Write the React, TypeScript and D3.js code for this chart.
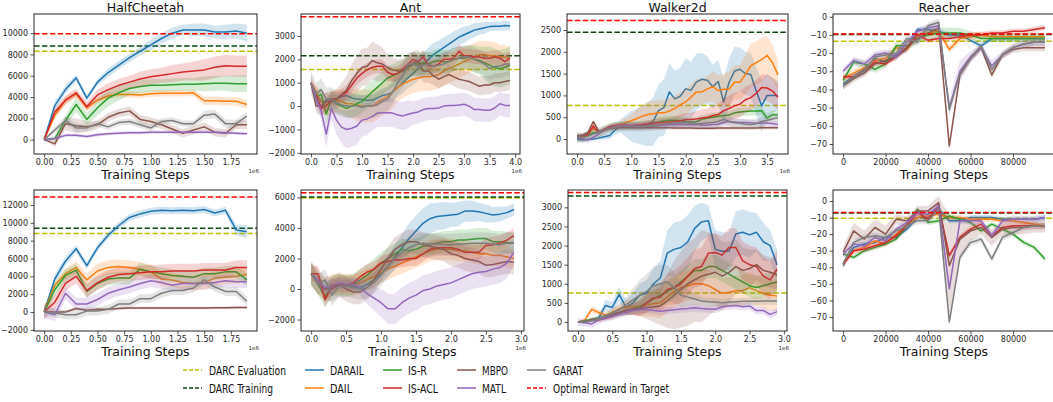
import React, { useEffect, useRef } from 'react';
import * as d3 from 'd3';

const METHODS = ['DARAIL', 'DAIL', 'IS-R', 'IS-ACL', 'MBPO', 'MATL', 'GARAT'];
const COLORS: Record<string, string> = {
  DARAIL: '#1f77b4', DAIL: '#ff7f0e', 'IS-R': '#2ca02c', 'IS-ACL': '#d62728',
  MBPO: '#8c564b', MATL: '#9467bd', GARAT: '#7f7f7f',
};
const EVAL_COLOR = '#bfbf00';
const TRAIN_COLOR = '#0b4a0b';
const OPT_COLOR = '#ff0000';

// x steps (1e6 for mujoco, raw for reacher)
const steps20 = d3.range(20).map((i) => i / 10);
const steps40 = d3.range(40).map((i) => i / 10);
const steps38 = d3.range(38).map((i) => i / 10);
const steps30 = d3.range(30).map((i) => i / 10);
const stepsReacher = d3.range(20).map((i) => i * 5000);

// reference lines per panel: HC, Ant, Walker, Reacher (top), then bottom row
const evalRefs = [8300, 1570, 770, -13.5, 8800, 5950, 760, -10.5];
const trainRefs = [8800, 2150, 2450, -9.8, 9400, 6020, 3300, -7.3];
const optimalRefs = [9950, 3820, 2720, -9.5, 12900, 6300, 3390, -7.0];

const hcTop: Record<string, number[]> = {
  DARAIL: [0, 3200, 4700, 5800, 3900, 5400, 6300, 7000, 7700, 8300, 8900, 9500, 10000, 10300, 10300, 10300, 10100, 10100, 10200, 10000],
  DAIL: [0, 2300, 3700, 4300, 3000, 3700, 4100, 4250, 4250, 4200, 4300, 4350, 4350, 4350, 4400, 3650, 3650, 3600, 3600, 3300],
  'IS-R': [0, 100, 1800, 3300, 1900, 3000, 3900, 4400, 4800, 5000, 5100, 5100, 5150, 5200, 5200, 5250, 5300, 5300, 5250, 5250],
  'IS-ACL': [0, 2600, 3700, 4400, 3100, 4200, 4700, 5100, 5400, 5700, 5900, 6050, 6200, 6350, 6450, 6550, 6800, 6950, 6900, 6900],
  MBPO: [0, -400, 1500, 1300, 1200, 1400, 2100, 2500, 2700, 1900, 1700, 1400, 1000, 600, 900, 1200, 700, 600, 1400, 1400],
  MATL: [0, 100, 400, 400, 300, 450, 550, 600, 650, 650, 700, 700, 700, 700, 700, 700, 700, 650, 600, 550],
  GARAT: [0, 900, 1800, 1100, 1100, 1500, 1200, 1600, 1700, 1400, 1100, 1700, 1800, 1500, 1500, 2300, 2400, 1500, 1500, 2200],
};
const hcTopSpread: Record<string, number | number[]> = {
  DARAIL: [0, 400, 400, 300, 300, 300, 400, 400, 400, 400, 500, 500, 500, 500, 600, 600, 600, 700, 700, 800],
  DAIL: [0, 400, 400, 300, 300, 300, 300, 300, 300, 300, 300, 300, 300, 300, 300, 400, 400, 400, 400, 400],
  'IS-R': [0, 300, 500, 700, 600, 700, 800, 700, 600, 600, 600, 600, 600, 600, 600, 700, 700, 700, 800, 800],
  'IS-ACL': [0, 400, 400, 400, 400, 500, 600, 600, 600, 700, 700, 700, 800, 800, 900, 1000, 1000, 1000, 1000, 1000],
  MBPO: [0, 300, 600, 700, 500, 400, 400, 400, 400, 400, 400, 400, 400, 400, 400, 400, 400, 400, 400, 400],
  MATL: 150,
  GARAT: [0, 300, 400, 400, 300, 300, 300, 300, 300, 300, 300, 300, 300, 300, 300, 400, 400, 400, 400, 400],
};

const antTop: Record<string, number[]> = {
  DARAIL: [1000, 400, -50, 250, 300, 300, 400, 450, 350, 300, 280, 250, 250, 350, 450, 500, 600, 800, 1000, 1200, 1400, 1600, 1800, 2000, 2200, 2350, 2500, 2650, 2800, 2950, 3050, 3150, 3250, 3300, 3350, 3400, 3420, 3420, 3450, 3430],
  DAIL: [1000, 600, 200, 50, 150, 250, 200, 100, 100, 50, 0, 0, 0, 150, 300, 400, 600, 800, 950, 1050, 1150, 1200, 1250, 1250, 1300, 1350, 1500, 1600, 1700, 1800, 1900, 2000, 2100, 2200, 2200, 2150, 2150, 2100, 2100, 2050],
  'IS-R': [1000, 400, 500, -350, 300, 100, 0, -100, 0, 100, 200, 400, 600, 800, 1000, 1200, 1300, 1400, 1500, 1650, 1800, 1800, 1850, 1800, 1900, 1950, 1900, 1900, 2000, 2050, 2050, 2100, 2000, 1950, 1850, 1750, 1650, 1600, 1650, 1750],
  'IS-ACL': [1000, 500, -100, 0, 300, 300, 450, 600, 900, 1200, 1400, 1550, 1650, 1700, 1700, 1450, 1350, 1400, 1600, 1800, 2000, 1900, 2100, 1750, 1700, 1800, 2000, 2000, 2050, 2350, 2150, 2150, 2100, 2100, 2050, 2050, 2100, 2050, 1900, 2050],
  MBPO: [1000, 0, 0, 200, 200, 300, 500, 700, 1100, 1400, 1650, 1700, 1950, 1850, 1800, 1650, 1550, 1500, 1500, 1700, 1850, 1900, 1500, 1500, 1300, 1150, 1250, 1350, 1250, 1150, 1100, 1050, 950, 850, 900, 900, 1000, 1000, 1050, 1100],
  MATL: [1000, 300, -200, -1200, -100, -600, -900, -1000, -950, -850, -600, -550, -450, -300, -280, -280, -300, -380, -420, -350, -300, -250, -150, -100, -100, -80, 0, 30, 30, 50, 80, 0, -150, -150, -180, -180, -80, 100, 30, 20],
  GARAT: [1000, 500, 700, 300, 300, 150, 50, 0, 0, 0, -50, 0, 0, 50, 200, 300, 600, 1000, 1300, 1800, 1800, 1700, 1750, 1800, 1700, 1750, 1800, 1900, 2000, 2050, 2100, 2100, 2000, 1900, 1800, 1600, 1700, 1700, 1800, 1800],
};
const antTopSpread: Record<string, number | number[]> = {
  DARAIL: [0, 150, 200, 200, 200, 200, 200, 200, 200, 200, 200, 200, 250, 300, 300, 350, 400, 400, 450, 450, 500, 500, 500, 500, 500, 450, 450, 400, 400, 350, 350, 300, 300, 250, 250, 200, 200, 200, 200, 200],
  DAIL: [0, 300, 400, 500, 500, 500, 500, 500, 600, 700, 700, 700, 700, 700, 700, 700, 700, 600, 600, 600, 600, 600, 600, 600, 600, 600, 600, 600, 600, 600, 600, 600, 600, 600, 600, 600, 600, 500, 500, 500],
  'IS-R': [0, 300, 300, 400, 400, 400, 400, 400, 500, 500, 500, 500, 500, 500, 500, 500, 500, 500, 500, 500, 500, 500, 500, 500, 500, 500, 500, 500, 500, 500, 500, 500, 600, 600, 700, 800, 800, 800, 800, 800],
  'IS-ACL': 300,
  MBPO: [0, 300, 400, 400, 400, 400, 500, 600, 700, 800, 800, 800, 800, 800, 700, 600, 500, 500, 500, 500, 500, 500, 500, 500, 400, 400, 400, 400, 400, 400, 400, 400, 400, 400, 400, 400, 400, 400, 400, 400],
  MATL: [0, 300, 400, 600, 500, 600, 700, 800, 800, 800, 700, 700, 600, 600, 600, 600, 600, 600, 600, 600, 500, 500, 500, 500, 500, 500, 500, 500, 500, 500, 500, 500, 500, 500, 500, 500, 500, 500, 500, 500],
  GARAT: 500,
};

const walkerTop: Record<string, number[]> = {
  DARAIL: [0, -20, -10, 0, 20, 50, 80, 200, 300, 300, 290, 300, 320, 340, 400, 650, 720, 1080, 920, 980, 1150, 1120, 1310, 1370, 1350, 1200, 1320, 850, 1300, 1560, 1600, 1500, 1480, 1100, 760, 1000, 1000, 1000],
  DAIL: [50, 60, 100, 250, 150, 200, 270, 300, 330, 380, 420, 470, 520, 560, 580, 600, 600, 640, 700, 780, 850, 960, 1080, 1080, 1150, 1200, 1110, 1140, 1140, 1300, 1300, 1480, 1680, 1750, 1820, 1920, 1750, 1470],
  'IS-R': [20, 30, 80, 150, 130, 200, 260, 290, 300, 300, 300, 300, 310, 330, 350, 390, 420, 430, 430, 420, 400, 390, 400, 450, 480, 500, 520, 540, 550, 600, 620, 630, 640, 640, 650, 480, 560, 550],
  'IS-ACL': [60, 80, 100, 300, 150, 220, 280, 310, 320, 320, 310, 320, 330, 350, 360, 370, 380, 390, 400, 420, 440, 450, 460, 480, 500, 540, 560, 650, 700, 760, 800, 900, 950, 1050, 1180, 1170, 1100, 960],
  MBPO: [80, 80, 150, 400, 180, 200, 230, 250, 260, 260, 260, 260, 260, 260, 260, 260, 260, 260, 255, 250, 250, 250, 245, 245, 245, 245, 250, 250, 250, 250, 250, 250, 255, 255, 260, 260, 260, 260],
  MATL: [20, 0, -20, 40, 120, 200, 250, 280, 300, 310, 300, 300, 290, 300, 310, 320, 320, 320, 330, 340, 330, 340, 330, 320, 320, 330, 340, 380, 400, 390, 380, 380, 370, 360, 360, 370, 350, 330],
  GARAT: [50, 30, 60, 120, 150, 200, 240, 280, 290, 290, 290, 280, 280, 290, 300, 310, 330, 350, 360, 370, 370, 360, 350, 350, 370, 380, 400, 450, 400, 370, 360, 340, 330, 350, 400, 430, 460, 490],
};
const walkerTopSpread: Record<string, number | number[]> = {
  DARAIL: [30, 30, 30, 30, 40, 60, 80, 100, 150, 250, 350, 400, 450, 500, 550, 600, 650, 650, 650, 650, 700, 650, 650, 600, 550, 500, 500, 550, 550, 550, 500, 500, 500, 550, 600, 500, 400, 350],
  DAIL: [30, 30, 40, 80, 50, 50, 60, 60, 80, 100, 150, 200, 250, 300, 300, 300, 300, 300, 300, 300, 300, 300, 300, 300, 300, 350, 350, 350, 400, 400, 400, 450, 500, 500, 500, 450, 400, 350],
  'IS-R': 100,
  'IS-ACL': [30, 30, 40, 100, 50, 50, 50, 50, 50, 50, 50, 60, 70, 80, 90, 100, 100, 100, 120, 140, 150, 160, 180, 200, 200, 220, 250, 280, 300, 300, 300, 300, 300, 300, 300, 300, 300, 300],
  MBPO: 40,
  MATL: 80,
  GARAT: 110,
};

const reacherTop: Record<string, number[]> = {
  DARAIL: [-37, -33, -29, -23, -25, -21, -18, -7, -7, -8, -10, -10, -13, -16, -12, -12, -12, -12, -12, -12],
  DAIL: [-34, -31, -28, -24, -23, -17, -18, -10, -9, -8, -18, -12, -11, -10, -11, -11, -11, -11, -11, -11],
  'IS-R': [-35, -25, -26, -29, -26, -16, -16, -12, -10, -9, -9, -9, -10, -12, -12, -12, -12, -12, -12, -12],
  'IS-ACL': [-33, -33, -30, -25, -26, -22, -17, -10, -13, -12, -12, -11, -10, -10, -9, -9, -8, -8, -7, -6],
  MBPO: [-38, -34, -31, -26, -24, -22, -17, -12, -9, -6, -71, -32, -23, -17, -32, -21, -18, -17, -17, -17],
  MATL: [-30, -24, -26, -21, -20, -22, -14, -8, -6, -5, -50, -30, -22, -17, -27, -21, -17, -15, -14, -14],
  GARAT: [-38, -33, -30, -22, -21, -20, -12, -14, -5, -3, -51, -31, -23, -16, -29, -21, -17, -15, -14, -14],
};
const reacherTopSpread: Record<string, number | number[]> = {
  DARAIL: 1.5,
  DAIL: 2,
  'IS-R': [2, 2, 2, 2, 2, 2, 2, 3, 3, 3, 3, 3, 2, 2, 2, 2, 2, 2, 2, 2],
  'IS-ACL': 1.5,
  MBPO: 2,
  MATL: [2, 2, 2, 2, 2, 2, 2, 2, 2, 2, 4, 6, 3, 2, 3, 2, 2, 2, 2, 2],
  GARAT: 2,
};

const hcBottom: Record<string, number[]> = {
  DARAIL: [0, 3700, 5700, 7100, 5200, 7200, 8600, 9700, 10600, 11000, 11300, 11400, 11350, 11400, 11350, 11500, 11100, 11400, 9200, 9000],
  DAIL: [0, 3000, 4300, 5000, 3600, 4600, 5000, 5100, 5000, 4800, 4500, 3700, 3600, 3300, 3200, 3300, 3800, 3900, 4000, 4200],
  'IS-R': [0, 2500, 4100, 4700, 2300, 3200, 3700, 3800, 3800, 4800, 4500, 4300, 4100, 4000, 3900, 4300, 4300, 4500, 4500, 3600],
  'IS-ACL': [0, 1100, 3200, 4000, 2400, 3300, 3900, 4200, 4300, 4400, 4500, 4500, 4600, 4600, 4600, 4700, 4700, 4700, 5000, 5000],
  MBPO: [0, 0, 0, 400, 200, 300, 300, 400, 450, 450, 450, 450, 450, 450, 450, 450, 480, 480, 500, 500],
  MATL: [0, -300, 2100, 900, 900, 1400, 2100, 2500, 2800, 3200, 3500, 3300, 3000, 3200, 3200, 3200, 3300, 3500, 3400, 3400],
  GARAT: [0, -100, -300, -300, 100, 100, 300, 900, 900, 1500, 1500, 2100, 2400, 2400, 2700, 3600, 2800, 2300, 2300, 1200],
};
const hcBottomSpread: Record<string, number | number[]> = {
  DARAIL: [0, 500, 500, 400, 400, 400, 400, 400, 400, 400, 400, 400, 400, 400, 400, 400, 400, 400, 600, 700],
  DAIL: [0, 400, 600, 700, 700, 800, 800, 800, 800, 800, 800, 800, 800, 800, 800, 800, 800, 800, 800, 800],
  'IS-R': 700,
  'IS-ACL': 800,
  MBPO: 150,
  MATL: 700,
  GARAT: 500,
};

const antBottom: Record<string, number[]> = {
  DARAIL: [1000, 500, 0, 300, 250, 300, 200, 100, 300, 600, 1000, 1500, 2100, 2700, 3300, 3800, 4300, 4600, 4750, 4800, 4850, 4900, 5100, 5100, 5050, 4950, 4850, 4900, 5000, 5200],
  DAIL: [1000, 300, 0, 300, 300, 300, 250, 400, 600, 800, 1100, 1300, 1500, 1700, 1900, 2100, 2300, 2500, 2600, 2600, 2600, 2500, 2500, 2400, 2300, 2300, 2200, 2200, 2100, 2000],
  'IS-R': [1000, 300, -500, 200, 250, 200, 300, 600, 900, 1300, 1700, 2000, 2300, 2600, 2500, 2600, 2800, 2900, 3000, 3100, 3100, 3200, 3200, 3250, 3300, 3300, 3100, 3100, 3050, 3000],
  'IS-ACL': [1000, 1000, -700, 200, 300, 250, 400, 800, 1100, 1300, 1700, 1800, 1900, 1900, 2000, 2000, 2300, 2600, 2700, 2700, 2700, 2600, 2400, 2400, 2400, 2850, 2900, 3000, 3200, 3500],
  MBPO: [1000, 500, 0, 0, 300, 0, -200, -200, 100, 600, 1300, 2000, 2600, 2900, 3100, 3100, 2900, 2800, 2700, 2600, 2300, 2200, 2000, 1900, 1800, 1550, 1600, 1700, 1800, 1750],
  MATL: [1000, 500, 100, 200, 400, 300, 300, 100, -300, -600, -900, -1300, -1300, -900, -600, -400, -100, 0, 200, 300, 400, 600, 800, 1000, 1100, 1150, 1300, 1400, 1700, 2400],
  GARAT: [1000, 300, 600, -400, 200, 200, 100, 0, 100, 400, 900, 1500, 2000, 2400, 2700, 2900, 3000, 2950, 2950, 2900, 2900, 2950, 2950, 3000, 3000, 3000, 2950, 2900, 3000, 3000],
};
const antBottomSpread: Record<string, number | number[]> = {
  DARAIL: [0, 300, 400, 400, 300, 300, 300, 300, 400, 500, 600, 700, 800, 900, 1000, 1000, 1000, 1000, 900, 900, 800, 800, 700, 700, 600, 600, 500, 500, 400, 400],
  DAIL: 700,
  'IS-R': 700,
  'IS-ACL': 500,
  MBPO: 800,
  MATL: [0, 300, 400, 400, 300, 300, 400, 500, 700, 800, 900, 1000, 1000, 1000, 1000, 1000, 1000, 1000, 1000, 1000, 1000, 1000, 1000, 1000, 1000, 1000, 1000, 1000, 1000, 800],
  GARAT: 700,
};

const walkerBottom: Record<string, number[]> = {
  DARAIL: [0, 0, 50, 100, 430, 380, 720, 380, 500, 700, 750, 1000, 1150, 1800, 1900, 1950, 2100, 2450, 2620, 2650, 1900, 1850, 1850, 2300, 2350, 2280, 2350, 2100, 2000, 1500],
  DAIL: [0, 50, 330, 250, 180, 250, 350, 400, 400, 420, 450, 480, 500, 650, 800, 900, 950, 1000, 1000, 950, 850, 750, 780, 820, 820, 900, 820, 750, 700, 680],
  'IS-R': [0, 30, 70, 100, 150, 200, 250, 300, 350, 400, 500, 600, 700, 800, 900, 1050, 1200, 1350, 1350, 1450, 1450, 1350, 1250, 1150, 1050, 950, 900, 950, 1000, 1050],
  'IS-ACL': [0, 0, 50, 50, 100, 150, 250, 300, 330, 350, 500, 630, 650, 850, 900, 1000, 1200, 1400, 1450, 1800, 1820, 1750, 1950, 1950, 1600, 1500, 1450, 1200, 1100, 1380],
  MBPO: [0, 0, 50, 80, 120, 180, 250, 300, 330, 350, 380, 400, 420, 550, 700, 850, 1000, 1100, 1200, 1250, 1300, 1200, 1300, 1450, 1350, 1400, 1500, 1350, 1300, 1230],
  MATL: [0, -20, -50, 50, 100, 150, 200, 250, 300, 320, 330, 300, 280, 300, 320, 340, 350, 370, 350, 340, 330, 400, 420, 430, 400, 420, 300, 300, 200, 270],
  GARAT: [0, 0, 30, 80, 150, 230, 330, 450, 580, 700, 800, 950, 1000, 1050, 900, 700, 650, 600, 550, 530, 520, 500, 520, 530, 540, 540, 540, 550, 550, 550],
};
const walkerBottomSpread: Record<string, number | number[]> = {
  DARAIL: [30, 30, 50, 80, 150, 150, 200, 200, 250, 300, 350, 400, 450, 600, 700, 700, 700, 600, 500, 400, 500, 500, 500, 600, 600, 600, 500, 500, 400, 400],
  DAIL: [20, 50, 80, 80, 80, 100, 100, 150, 200, 250, 300, 350, 400, 400, 400, 400, 400, 400, 400, 400, 400, 400, 400, 400, 400, 400, 400, 400, 400, 400],
  'IS-R': [20, 30, 40, 50, 60, 80, 100, 120, 150, 200, 250, 300, 300, 300, 300, 300, 300, 300, 300, 300, 300, 300, 300, 300, 300, 300, 300, 300, 300, 300],
  'IS-ACL': [20, 30, 40, 50, 60, 80, 100, 120, 150, 200, 250, 300, 350, 400, 450, 500, 500, 500, 500, 500, 500, 500, 500, 500, 500, 500, 500, 500, 500, 500],
  MBPO: [20, 30, 40, 50, 60, 80, 100, 120, 150, 200, 300, 400, 500, 700, 900, 1000, 1100, 1100, 1200, 1100, 1000, 900, 800, 700, 600, 500, 400, 400, 400, 400],
  MATL: 100,
  GARAT: [20, 30, 40, 50, 80, 100, 150, 200, 300, 400, 450, 500, 500, 450, 400, 300, 200, 150, 100, 100, 100, 100, 100, 100, 100, 100, 100, 100, 100, 100],
};

const reacherBottom: Record<string, number[]> = {
  DARAIL: [-39, -28, -26, -25, -22, -22, -17, -10, -10, -5, -12, -12, -10, -10, -10, -11, -11, -11, -11, -10],
  DAIL: [-38, -30, -28, -24, -26, -20, -14, -10, -9, -8, -10, -10, -11, -11, -11, -12, -12, -13, -14, -15],
  'IS-R': [-32, -34, -30, -28, -26, -23, -15, -5, -13, -12, -9, -11, -13, -18, -14, -17, -20, -25, -28, -35],
  'IS-ACL': [-38, -30, -29, -27, -25, -21, -15, -7, -11, -3, -33, -22, -17, -14, -21, -16, -15, -15, -15, -15],
  MBPO: [-31, -18, -23, -16, -20, -11, -12, -6, -6, -1, -39, -23, -18, -16, -22, -17, -16, -16, -15, -15],
  MATL: [-32, -26, -27, -22, -24, -17, -13, -7, -8, -3, -53, -12, -12, -12, -21, -12, -11, -11, -11, -10],
  GARAT: [-38, -25, -22, -21, -22, -18, -15, -12, -12, -5, -73, -34, -25, -23, -35, -22, -19, -16, -15, -15],
};
const reacherBottomSpread: Record<string, number | number[]> = {
  DARAIL: 1.5,
  DAIL: 1.5,
  'IS-R': 1.5,
  'IS-ACL': 2,
  MBPO: [3, 5, 5, 5, 5, 3, 3, 3, 3, 4, 30, 12, 6, 4, 5, 4, 4, 4, 4, 4],
  MATL: 2,
  GARAT: 2,
};

const xTicksHC = [0, 0.25, 0.5, 0.75, 1, 1.25, 1.5, 1.75];
const xTicksAntTop = [0, 0.5, 1, 1.5, 2, 2.5, 3, 3.5, 4];
const xTicksWalkerTop = [0, 0.5, 1, 1.5, 2, 2.5, 3, 3.5];
const xTicks3 = [0, 0.5, 1, 1.5, 2, 2.5, 3];
const xTicksReacher = [0, 20000, 40000, 60000, 80000];

const panels = [
  { title: 'HalfCheetah', row: 0, left: 34, width: 223, steps: steps20, mean: hcTop, spread: hcTopSpread, xDomain: [-0.095, 1.995], yDomain: [-1350, 11800], xTicks: xTicksHC, yTicks: d3.range(0, 10001, 2000), xFmt: '.2f', offset: true },
  { title: 'Ant', row: 0, left: 301, width: 219, steps: steps40, mean: antTop, spread: antTopSpread, xDomain: [-0.195, 4.095], yDomain: [-2050, 3940], xTicks: xTicksAntTop, yTicks: d3.range(-2000, 3001, 1000), xFmt: '.1f', offset: true },
  { title: 'Walker2d', row: 0, left: 567, width: 221, steps: steps38, mean: walkerTop, spread: walkerTopSpread, xDomain: [-0.185, 3.885], yDomain: [-344, 2867], xTicks: xTicksWalkerTop, yTicks: d3.range(0, 2501, 500), xFmt: '.1f', offset: true },
  { title: 'Reacher', row: 0, left: 833, width: 222, steps: stepsReacher, mean: reacherTop, spread: reacherTopSpread, xDomain: [-4750, 99750], yDomain: [-75.5, 1.5], xTicks: xTicksReacher, yTicks: d3.range(0, -71, -10), xFmt: 'd', offset: false },
  { title: '', row: 1, left: 34, width: 223, steps: steps20, mean: hcBottom, spread: hcBottomSpread, xDomain: [-0.095, 1.995], yDomain: [-2130, 13680], xTicks: xTicksHC, yTicks: d3.range(-2000, 12001, 2000), xFmt: '.2f', offset: true },
  { title: '', row: 1, left: 301, width: 223, steps: steps30, mean: antBottom, spread: antBottomSpread, xDomain: [-0.145, 3.045], yDomain: [-2750, 6480], xTicks: xTicks3, yTicks: d3.range(-2000, 6001, 2000), xFmt: '.1f', offset: true },
  { title: '', row: 1, left: 568, width: 219, steps: steps30, mean: walkerBottom, spread: walkerBottomSpread, xDomain: [-0.145, 3.045], yDomain: [-236, 3454], xTicks: xTicks3, yTicks: d3.range(0, 3001, 500), xFmt: '.1f', offset: true },
  { title: '', row: 1, left: 833, width: 222, steps: stepsReacher, mean: reacherBottom, spread: reacherBottomSpread, xDomain: [-4750, 99750], yDomain: [-78.4, 6.6], xTicks: xTicksReacher, yTicks: d3.range(0, -71, -10), xFmt: 'd', offset: false },
];

const ROW_TOP = [14, 190];
const ROW_H = [140, 141];

const legendItems = [
  { label: 'DARC Evaluation', color: EVAL_COLOR, dash: true, col: 0, row: 0, w: 77 },
  { label: 'DARC Training', color: TRAIN_COLOR, dash: true, col: 0, row: 1, w: 64 },
  { label: 'DARAIL', color: COLORS.DARAIL, dash: false, col: 1, row: 0, w: 34 },
  { label: 'DAIL', color: COLORS.DAIL, dash: false, col: 1, row: 1, w: 22 },
  { label: 'IS-R', color: COLORS['IS-R'], dash: false, col: 2, row: 0, w: 19 },
  { label: 'IS-ACL', color: COLORS['IS-ACL'], dash: false, col: 2, row: 1, w: 30 },
  { label: 'MBPO', color: COLORS.MBPO, dash: false, col: 3, row: 0, w: 26 },
  { label: 'MATL', color: COLORS.MATL, dash: false, col: 3, row: 1, w: 24 },
  { label: 'GARAT', color: COLORS.GARAT, dash: false, col: 4, row: 0, w: 30 },
  { label: 'Optimal Reward in Target', color: OPT_COLOR, dash: true, col: 4, row: 1, w: 116 },
];
const LEG_HANDLE_X = [183, 305, 383, 457, 527];
const LEG_TEXT_X = [209, 330, 408, 482, 553];
const LEG_ROW_Y = [370, 388];

const FONT = '"DejaVu Sans", sans-serif';

export default function App() {
  const chartRef = useRef<SVGSVGElement>(null);

  useEffect(() => {
    const svg = d3.select(chartRef.current);
    svg.selectAll('*').remove();

    panels.forEach((p, pi) => {
      const top = ROW_TOP[p.row];
      const h = ROW_H[p.row];
      const x = d3.scaleLinear().domain(p.xDomain).range([p.left, p.left + p.width]);
      const y = d3.scaleLinear().domain(p.yDomain).range([top + h, top]);
      const g = svg.append('g');

      const clipId = `clip-${pi}`;
      g.append('clipPath').attr('id', clipId)
        .append('rect').attr('x', p.left).attr('y', top).attr('width', p.width).attr('height', h);
      const plot = g.append('g').attr('clip-path', `url(#${clipId})`);

      const hline = (v: number, color: string) => {
        plot.append('line')
          .attr('x1', p.left).attr('x2', p.left + p.width)
          .attr('y1', y(v)).attr('y2', y(v))
          .attr('stroke', color).attr('stroke-width', 1.5)
          .attr('stroke-dasharray', '5.5,2.4');
      };
      hline(evalRefs[pi], EVAL_COLOR);
      hline(trainRefs[pi], TRAIN_COLOR);

      METHODS.forEach((m) => {
        const vals = p.mean[m];
        const sp = p.spread[m];
        const rows = p.steps.map((s, i) => ({ s, v: vals[i], e: typeof sp === 'number' ? sp : sp[i] }));
        const line = d3.line<any>().x((d) => x(d.s)).y((d) => y(d.v));
        const area = d3.area<any>().x((d) => x(d.s)).y0((d) => y(d.v - d.e)).y1((d) => y(d.v + d.e));
        plot.append('path').datum(rows)
          .attr('d', line)
          .attr('fill', 'none')
          .attr('stroke', COLORS[m])
          .attr('stroke-width', 1.5)
          .attr('stroke-linejoin', 'round');
        plot.append('path').datum(rows)
          .attr('d', area)
          .attr('fill', COLORS[m])
          .attr('fill-opacity', 0.2);
      });

      hline(optimalRefs[pi], OPT_COLOR);

      // axes
      const xAxis = d3.axisBottom(x).tickValues(p.xTicks)
        .tickFormat(d3.format(p.xFmt) as any).tickSize(3.5).tickPadding(2);
      const gx = g.append('g').attr('transform', `translate(0,${top + h})`).call(xAxis);
      gx.select('.domain').remove();
      gx.selectAll('text').attr('font-family', FONT).attr('font-size', 8).attr('fill', '#262626');
      gx.selectAll('line').attr('stroke', '#262626').attr('stroke-width', 0.8);

      const yAxis = d3.axisLeft(y).tickValues(p.yTicks)
        .tickFormat(d3.format('d') as any).tickSize(3.5).tickPadding(2.5);
      const gy = g.append('g').attr('transform', `translate(${p.left},0)`).call(yAxis);
      gy.select('.domain').remove();
      gy.selectAll('text').attr('font-family', FONT).attr('font-size', 8).attr('fill', '#262626');
      gy.selectAll('line').attr('stroke', '#262626').attr('stroke-width', 0.8);

      g.append('rect')
        .attr('x', p.left).attr('y', top).attr('width', p.width).attr('height', h)
        .attr('fill', 'none').attr('stroke', '#262626').attr('stroke-width', 1);

      if (p.title) {
        g.append('text')
          .attr('x', p.left + p.width / 2).attr('y', top - 2.5)
          .attr('text-anchor', 'middle')
          .attr('font-family', FONT).attr('font-size', 12.5).attr('fill', '#111')
          .text(p.title);
      }
      g.append('text')
        .attr('x', p.left + p.width / 2).attr('y', top + h + 24.5)
        .attr('text-anchor', 'middle')
        .attr('font-family', FONT).attr('font-size', 12.5).attr('fill', '#111')
        .text('Training Steps');
      if (p.offset) {
        g.append('text')
          .attr('x', p.left + p.width + 2).attr('y', top + h + 19)
          .attr('text-anchor', 'end')
          .attr('font-family', FONT).attr('font-size', 5.5).attr('fill', '#262626')
          .text('1e6');
      }
    });

    // legend
    const leg = svg.append('g');
    legendItems.forEach((it) => {
      const yy = LEG_ROW_Y[it.row];
      leg.append('line')
        .attr('x1', LEG_HANDLE_X[it.col]).attr('x2', LEG_HANDLE_X[it.col] + 19)
        .attr('y1', yy).attr('y2', yy)
        .attr('stroke', it.color).attr('stroke-width', 1.5)
        .attr('stroke-dasharray', it.dash ? '4,2' : null);
      leg.append('text')
        .attr('x', LEG_TEXT_X[it.col]).attr('y', yy + 4.5)
        .attr('font-family', FONT).attr('font-size', 11.5).attr('fill', '#111')
        .attr('textLength', it.w).attr('lengthAdjust', 'spacingAndGlyphs')
        .text(it.label);
    });
  }, []);

  return (
    <svg
      ref={chartRef}
      width={1053}
      height={402}
      style={{ position: 'absolute', left: 0, top: 0, display: 'block', background: '#fff' }}
    />
  );
}
